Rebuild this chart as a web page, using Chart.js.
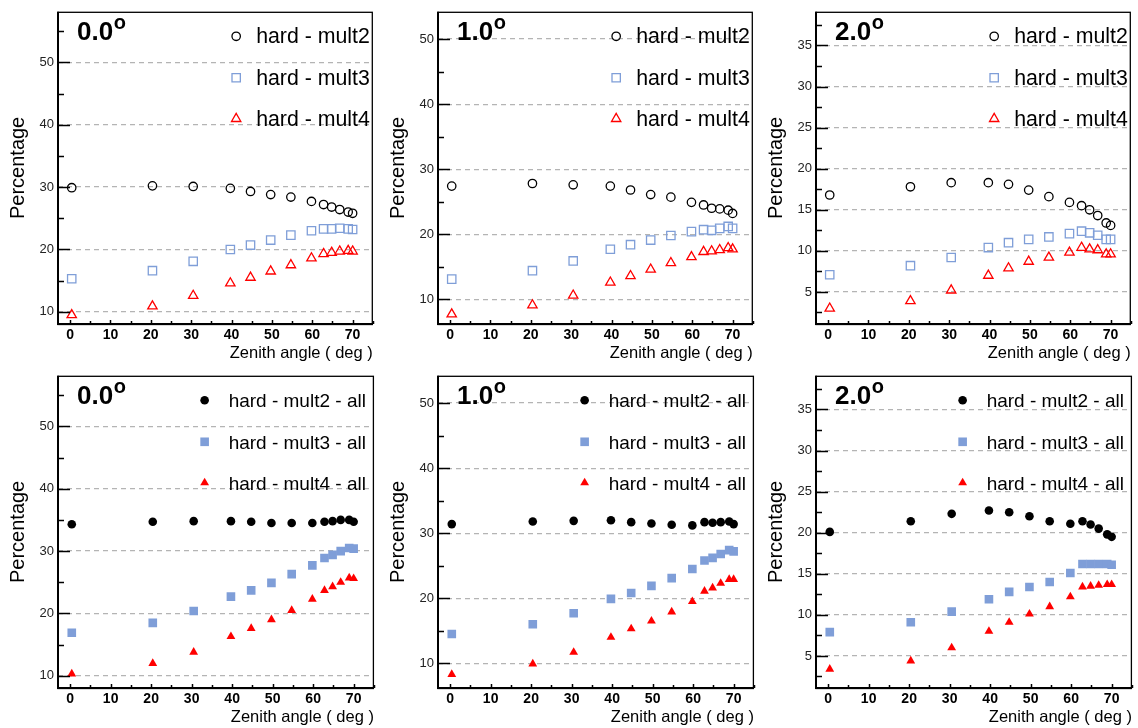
<!DOCTYPE html>
<html>
<head>
<meta charset="utf-8">
<title>Hard events by multiplicity vs zenith angle</title>
<script src="https://cdn.jsdelivr.net/npm/chart.js@4.4.1/dist/chart.umd.min.js"></script>
<style>
  html, body { margin: 0; padding: 0; background: #ffffff; }
  #wrap { position: relative; width: 1138px; height: 728px; overflow: hidden; }
  .cell { position: absolute; width: 380px; height: 364px; }
  .cell canvas { display: block; }
</style>
</head>
<body>
<div id="wrap">
  <div class="cell" style="left:0px;top:0px"><canvas id="c0" width="380" height="364"></canvas></div>
  <div class="cell" style="left:380px;top:0px"><canvas id="c1" width="380" height="364"></canvas></div>
  <div class="cell" style="left:758px;top:0px"><canvas id="c2" width="380" height="364"></canvas></div>
  <div class="cell" style="left:0px;top:364px"><canvas id="c3" width="380" height="364"></canvas></div>
  <div class="cell" style="left:380px;top:364px"><canvas id="c4" width="380" height="364"></canvas></div>
  <div class="cell" style="left:758px;top:364px"><canvas id="c5" width="380" height="364"></canvas></div>
</div>
<script>
(() => {
    'use strict';

    // --- data ---
    const zenithAngles = [0.4, 20.4, 30.5, 39.7, 44.7, 49.7, 54.7, 59.8, 62.8, 64.8, 66.8, 68.9, 70.0];

    const angleLabels = ['0.0', '1.0', '2.0'];
    const hardNames = ['hard - mult2', 'hard - mult3', 'hard - mult4'];
    const allNames = ['hard - mult2 - all', 'hard - mult3 - all', 'hard - mult4 - all'];

    const xTicks = [0, 10, 20, 30, 40, 50, 60, 70];
    const yTicksWide = [10, 20, 30, 40, 50];
    const yTicksNarrow = [5, 10, 15, 20, 25, 30, 35];

    // top row: hard, open markers
    const hard0Mult2 = [29.9, 30.2, 30.1, 29.8, 29.3, 28.8, 28.4, 27.7, 27.2, 26.8, 26.4, 26.0, 25.8];
    const hard0Mult3 = [15.3, 16.6, 18.1, 20.0, 20.7, 21.5, 22.3, 23.0, 23.3, 23.3, 23.4, 23.3, 23.2];
    const hard0Mult4 = [9.5, 10.9, 12.6, 14.6, 15.5, 16.5, 17.5, 18.6, 19.3, 19.5, 19.7, 19.8, 19.7];

    const hard1Mult2 = [27.4, 27.8, 27.6, 27.4, 26.8, 26.1, 25.7, 24.9, 24.5, 24.0, 23.9, 23.7, 23.2];
    const hard1Mult3 = [13.1, 14.4, 15.9, 17.7, 18.4, 19.1, 19.8, 20.4, 20.7, 20.6, 20.9, 21.2, 20.9];
    const hard1Mult4 = [7.7, 9.1, 10.6, 12.6, 13.6, 14.6, 15.6, 16.5, 17.3, 17.4, 17.6, 17.9, 17.7];

    const hard2Mult2 = [16.8, 17.8, 18.3, 18.3, 18.1, 17.4, 16.6, 15.9, 15.5, 15.0, 14.3, 13.4, 13.1];
    const hard2Mult3 = [7.1, 8.2, 9.2, 10.4, 11.0, 11.4, 11.7, 12.1, 12.4, 12.2, 11.9, 11.4, 11.4];
    const hard2Mult4 = [3.0, 3.9, 5.2, 7.0, 7.9, 8.7, 9.2, 9.8, 10.4, 10.2, 10.1, 9.6, 9.6];

    // bottom row: hard - all, filled markers
    const all0Mult2 = [34.3, 34.7, 34.8, 34.8, 34.7, 34.5, 34.5, 34.5, 34.7, 34.8, 35.0, 35.0, 34.7];
    const all0Mult3 = [16.9, 18.5, 20.4, 22.7, 23.7, 24.9, 26.3, 27.7, 28.9, 29.4, 30.0, 30.5, 30.4];
    const all0Mult4 = [10.3, 12.0, 13.8, 16.3, 17.6, 19.0, 20.5, 22.3, 23.7, 24.3, 25.0, 25.7, 25.6];

    const all1Mult2 = [31.4, 31.8, 31.9, 32.0, 31.7, 31.5, 31.3, 31.2, 31.7, 31.6, 31.7, 31.8, 31.4];
    const all1Mult3 = [14.5, 16.0, 17.7, 19.9, 20.8, 21.9, 23.1, 24.5, 25.8, 26.2, 26.8, 27.4, 27.2];
    const all1Mult4 = [8.3, 9.9, 11.7, 14.0, 15.3, 16.5, 17.9, 19.5, 21.1, 21.6, 22.3, 22.9, 22.9];

    const all2Mult2 = [20.1, 21.4, 22.3, 22.7, 22.5, 22.0, 21.4, 21.1, 21.4, 21.0, 20.5, 19.8, 19.5];
    const all2Mult3 = [7.9, 9.1, 10.4, 11.9, 12.8, 13.4, 14.0, 15.1, 16.2, 16.2, 16.2, 16.2, 16.1];
    const all2Mult4 = [3.4, 4.4, 6.0, 8.0, 9.1, 10.1, 11.0, 12.2, 13.4, 13.5, 13.6, 13.7, 13.7];

    // --- styles ---
    const FONT = "'Liberation Sans', Arial, Helvetica, sans-serif";
    Chart.defaults.font.family = FONT;

    const markers = [
        { pointStyle: 'circle', color: '#000000', openRadius: 4.2, fillRadius: 4.3 },
        { pointStyle: 'rect', color: '#7f9ed8', openRadius: 5.9, fillRadius: 6.1 },
        { pointStyle: 'triangle', color: '#ff0000', openRadius: 5.4, fillRadius: 5.1 },
    ];

    // legend look for open (top) and filled (bottom) panels
    const legendOpen = { fontSize: 21.3, rightMargin: 3, markerGap: 20 };
    const legendFilled = { fontSize: 19, rightMargin: 8, markerGap: 24 };

    const panels = [
        { id: 'c0', angle: angleLabels[0], names: hardNames, values: [hard0Mult2, hard0Mult3, hard0Mult4], filled: false, yMin: 8.05, yMax: 58.1, yTicks: yTicksWide },
        { id: 'c1', angle: angleLabels[1], names: hardNames, values: [hard1Mult2, hard1Mult3, hard1Mult4], filled: false, yMin: 6.2, yMax: 54.2, yTicks: yTicksWide },
        { id: 'c2', angle: angleLabels[2], names: hardNames, values: [hard2Mult2, hard2Mult3, hard2Mult4], filled: false, yMin: 1.1, yMax: 39.1, yTicks: yTicksNarrow },
        { id: 'c3', angle: angleLabels[0], names: allNames, values: [all0Mult2, all0Mult3, all0Mult4], filled: true, yMin: 8.05, yMax: 58.1, yTicks: yTicksWide },
        { id: 'c4', angle: angleLabels[1], names: allNames, values: [all1Mult2, all1Mult3, all1Mult4], filled: true, yMin: 6.2, yMax: 54.2, yTicks: yTicksWide },
        { id: 'c5', angle: angleLabels[2], names: allNames, values: [all2Mult2, all2Mult3, all2Mult4], filled: true, yMin: 1.1, yMax: 39.1, yTicks: yTicksNarrow },
    ];

    const minorTicks = (ticks, min, max) => {
        const half = (ticks[1] - ticks[0]) / 2;
        const out = [];
        for (let v = ticks[0] - half; v <= max; v += 2 * half) {
            if (v >= min) out.push(v);
        }
        return out;
    };

    // frame, inward tick marks, panel label and in-plot legend
    const framePlugin = {
        id: 'frameDecor',
        afterDraw(chart) {
            const opts = chart.options.plugins.frameDecor;
            const { ctx, chartArea: a } = chart;
            const xs = chart.scales.x;
            const ys = chart.scales.y;

            ctx.save();
            ctx.strokeStyle = '#000000';

            // y tick marks (inward)
            ctx.lineWidth = 1.5;
            ctx.beginPath();
            ys.ticks.forEach((t) => {
                const py = Math.round(ys.getPixelForValue(t.value)) + 0.5;
                ctx.moveTo(a.left, py);
                ctx.lineTo(a.left + 12, py);
            });
            minorTicks(opts.yTicks, ys.min, ys.max).forEach((v) => {
                const py = Math.round(ys.getPixelForValue(v)) + 0.5;
                ctx.moveTo(a.left, py);
                ctx.lineTo(a.left + 6, py);
            });
            // x tick marks (inward, small)
            xs.ticks.forEach((t) => {
                const px = Math.round(xs.getPixelForValue(t.value)) + 0.5;
                ctx.moveTo(px, a.bottom);
                ctx.lineTo(px, a.bottom - 4);
            });
            minorTicks(xTicks, xs.min, xs.max).forEach((v) => {
                const px = Math.round(xs.getPixelForValue(v)) + 0.5;
                ctx.moveTo(px, a.bottom);
                ctx.lineTo(px, a.bottom - 3);
            });
            ctx.stroke();

            // frame
            ctx.lineWidth = 1.3;
            ctx.strokeRect(a.left, a.top + 0.5, a.right - a.left - 0.5, a.bottom - a.top);
            ctx.lineWidth = 2;
            ctx.beginPath();
            ctx.moveTo(a.left, a.top);
            ctx.lineTo(a.left, a.bottom);
            ctx.lineTo(a.right, a.bottom);
            ctx.stroke();

            // panel label, e.g. 0.0 with superscript o
            ctx.fillStyle = '#000000';
            ctx.textAlign = 'left';
            ctx.textBaseline = 'alphabetic';
            ctx.font = `bold 26px ${FONT}`;
            ctx.fillText(opts.angle, a.left + 19, a.top + 28);
            const w = ctx.measureText(opts.angle).width;
            ctx.font = `bold 20px ${FONT}`;
            ctx.fillText('o', a.left + 19 + w + 0.5, a.top + 17);

            // legend in the top right of the plot area
            const lg = opts.filled ? legendFilled : legendOpen;
            ctx.font = `${lg.fontSize}px ${FONT}`;
            const textWidth = Math.max(...opts.names.map((n) => ctx.measureText(n).width));
            const textX = a.right - lg.rightMargin - textWidth;
            const markerX = textX - lg.markerGap;
            const rows = [24.5, 66, 107];
            opts.names.forEach((name, i) => {
                const m = markers[i];
                const cy = a.top + rows[i];
                ctx.save();
                ctx.strokeStyle = m.color;
                ctx.fillStyle = opts.filled ? m.color : 'rgba(0,0,0,0)';
                ctx.lineWidth = opts.filled ? 0 : 1.3;
                Chart.helpers.drawPoint(ctx, {
                    pointStyle: m.pointStyle,
                    radius: opts.filled ? m.fillRadius : m.openRadius,
                    rotation: 0,
                    borderWidth: opts.filled ? 0 : 1.3,
                }, markerX, cy);
                ctx.restore();
                ctx.fillStyle = '#000000';
                ctx.fillText(name, textX, cy + 7);
            });

            ctx.restore();
        },
    };

    const buildChart = (panel) => {
        const canvas = document.getElementById(panel.id);

        const datasets = panel.values.map((series, i) => {
            const m = markers[i];
            return {
                label: panel.names[i],
                data: series.map((v, k) => ({ x: zenithAngles[k], y: v })),
                showLine: false,
                pointStyle: m.pointStyle,
                pointRadius: panel.filled ? m.fillRadius : m.openRadius,
                pointHoverRadius: panel.filled ? m.fillRadius : m.openRadius,
                pointBorderWidth: panel.filled ? 0 : 1.3,
                pointBorderColor: m.color,
                pointBackgroundColor: panel.filled ? m.color : 'rgba(0,0,0,0)',
            };
        });

        new Chart(canvas, {
            type: 'scatter',
            data: { datasets },
            plugins: [framePlugin],
            options: {
                responsive: false,
                animation: false,
                layout: {
                    padding: { top: 8, right: 1, left: 0, bottom: 0 },
                },
                plugins: {
                    legend: { display: false },
                    tooltip: { enabled: false },
                    frameDecor: {
                        angle: panel.angle,
                        names: panel.names,
                        filled: panel.filled,
                        yTicks: panel.yTicks,
                    },
                },
                scales: {
                    x: {
                        type: 'linear',
                        min: -3,
                        max: 75,
                        afterBuildTicks: (scale) => {
                            scale.ticks = xTicks.map((v) => ({ value: v }));
                        },
                        afterFit: (scale) => {
                            scale.height = 40;
                        },
                        grid: { display: false, drawTicks: false },
                        border: { display: false },
                        ticks: {
                            color: '#000000',
                            font: { size: 14, weight: 'bold' },
                            padding: 3,
                            maxRotation: 0,
                            autoSkip: false,
                            callback: (v) => String(v),
                        },
                        title: {
                            display: true,
                            text: 'Zenith angle ( deg )',
                            align: 'end',
                            color: '#000000',
                            font: { size: 16.5 },
                            padding: { top: 0, bottom: 1 },
                        },
                    },
                    y: {
                        type: 'linear',
                        min: panel.yMin,
                        max: panel.yMax,
                        afterBuildTicks: (scale) => {
                            scale.ticks = panel.yTicks.map((v) => ({ value: v }));
                        },
                        afterFit: (scale) => {
                            scale.width = 58;
                        },
                        grid: {
                            color: '#b4b4b4',
                            lineWidth: 1.3,
                            drawTicks: false,
                        },
                        border: { display: false, dash: [5, 4] },
                        ticks: {
                            color: '#222222',
                            font: { size: 13 },
                            padding: 4,
                            autoSkip: false,
                            callback: (v) => String(v),
                        },
                        title: {
                            display: true,
                            text: 'Percentage',
                            color: '#000000',
                            font: { size: 20 },
                            padding: { top: 6, bottom: 0 },
                        },
                    },
                },
            },
        });
    };

    panels.forEach(buildChart);
})();
</script>
</body>
</html>
